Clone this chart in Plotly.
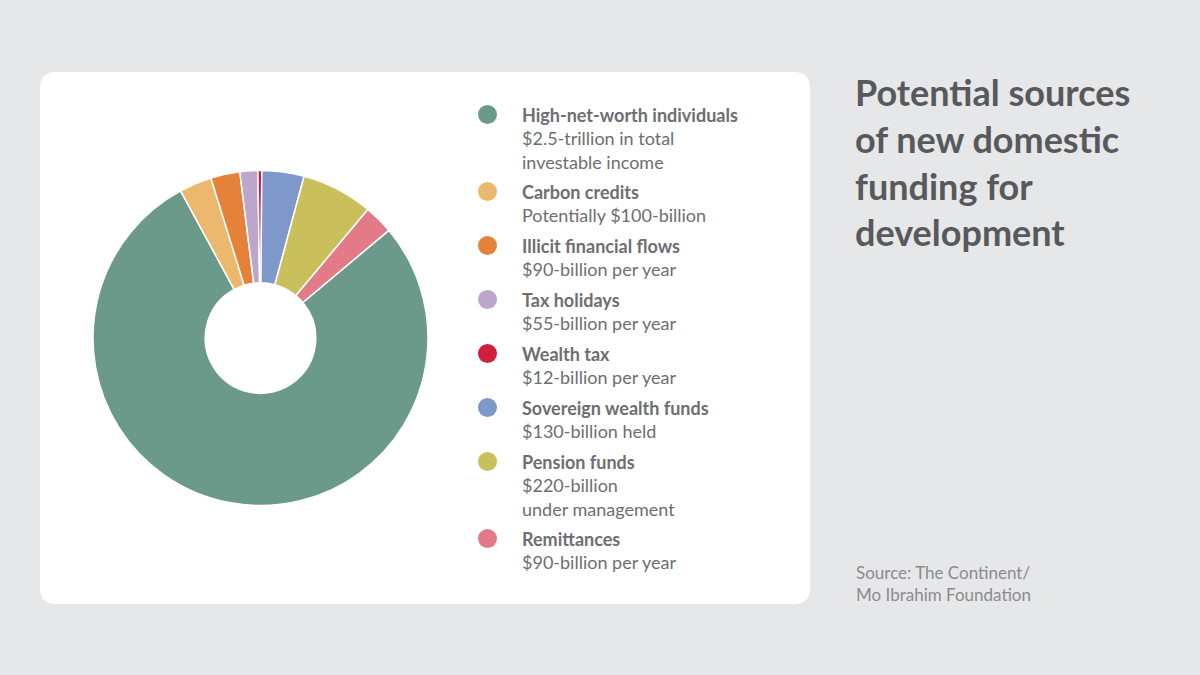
import plotly.graph_objects as go

labels = ["High-net-worth individuals", "Carbon credits", "Illicit financial flows",
          "Tax holidays", "Wealth tax", "Sovereign wealth funds", "Pension funds", "Remittances"]
values = [2500, 100, 90, 55, 12, 130, 220, 90]
details = ["$2.5-trillion in total<br>investable income", "Potentially $100-billion",
           "$90-billion per year", "$55-billion per year", "$12-billion per year",
           "$130-billion held", "$220-billion<br>under management", "$90-billion per year"]
colors = ["#6b9a8b", "#ecb86e", "#e5823a", "#bca6cc", "#cf1f3c", "#7d98c9", "#c9c05c", "#e27b87"]
legend_y = [114, 191, 245, 299, 353, 407, 461, 538]

W, H = 1200, 675
FONT = "Lato"
GREY = "#6d6e71"

fig = go.Figure(go.Pie(
    labels=labels, values=values, hole=0.33, sort=False, direction="clockwise",
    rotation=50, marker=dict(colors=colors, line=dict(color="white", width=1.5)),
    textinfo="none", hoverinfo="label+value", showlegend=False,
    domain=dict(x=[93 / W, 428 / W], y=[(H - 506) / H, (H - 170) / H]),
))

# white rounded card
x0, y0, x1, y1, r = 40, 72, 810, 604, 16
path = (f"M{x0+r},{y0} L{x1-r},{y0} Q{x1},{y0} {x1},{y0+r} L{x1},{y1-r} Q{x1},{y1} {x1-r},{y1} "
        f"L{x0+r},{y1} Q{x0},{y1} {x0},{y1-r} L{x0},{y0+r} Q{x0},{y0} {x0+r},{y0} Z")
shapes = [dict(type="path", xref="x", yref="y", path=path, fillcolor="white",
               line=dict(width=0), layer="below")]
annotations = []
for lab, det, col, ly in zip(labels, details, colors, legend_y):
    shapes.append(dict(type="circle", xref="x", yref="y", x0=478, x1=497, y0=ly - 9, y1=ly + 10,
                       fillcolor=col, line=dict(width=0)))
    annotations.append(dict(x=520, y=ly - 12, xref="x", yref="y", xanchor="left", yanchor="top",
                            align="left", showarrow=False,
                            text=f"<b>{lab}</b><br>{det}",
                            font=dict(family=FONT, size=18, color=GREY)))

annotations.append(dict(x=853, y=68, xref="x", yref="y", xanchor="left", yanchor="top", align="left",
                        showarrow=False,
                        text="<b>Potential sources<br>of new domestic<br>funding for<br>development</b>",
                        font=dict(family=FONT, size=36, color="#58595b")))
annotations.append(dict(x=854, y=560, xref="x", yref="y", xanchor="left", yanchor="top", align="left",
                        showarrow=False, text="Source: The Continent/<br>Mo Ibrahim Foundation",
                        font=dict(family=FONT, size=17, color="#8a8b8e")))

fig.update_layout(
    width=W, height=H, margin=dict(l=0, r=0, t=0, b=0),
    paper_bgcolor="#e6e7e9", plot_bgcolor="rgba(0,0,0,0)",
    xaxis=dict(range=[0, W], visible=False, fixedrange=True),
    yaxis=dict(range=[H, 0], visible=False, fixedrange=True),
    shapes=shapes, annotations=annotations,
)
fig.write_html("out.html", config={"displayModeBar": False},
               post_script="document.body.style.margin='0';")
